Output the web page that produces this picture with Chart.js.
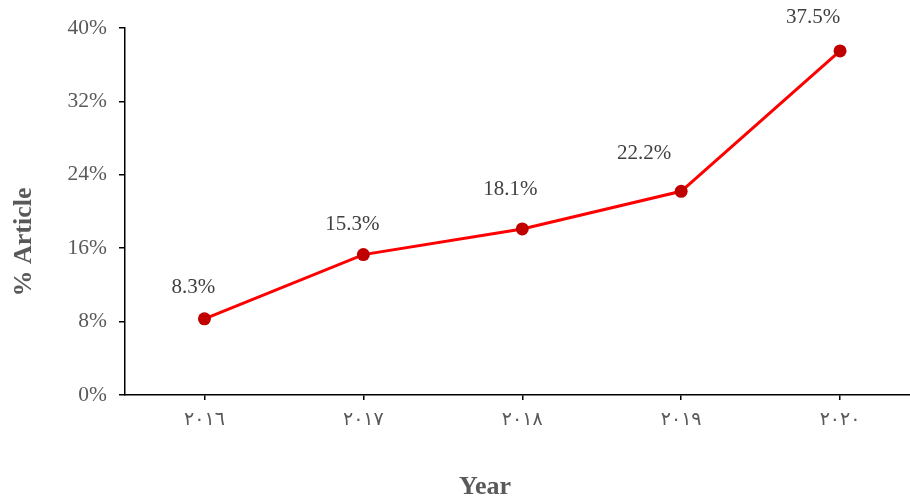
<!DOCTYPE html>
<html>
<head>
<meta charset="utf-8">
<script src="https://cdn.jsdelivr.net/npm/chart.js@4/dist/chart.umd.min.js"></script>
<style>
  html, body { margin: 0; padding: 0; background: #fff; overflow: hidden; }
  #wrap { width: 926px; height: 500px; }
</style>
</head>
<body>
<div id="wrap"><canvas id="c" width="926" height="500"></canvas></div>
<script>
// values
const years   = ['٢٠١٦', '٢٠١٧', '٢٠١٨', '٢٠١٩', '٢٠٢٠'];
const article = [8.3, 15.3, 18.1, 22.2, 37.5];
const yTicks  = [0, 8, 16, 24, 32, 40];

const GRAY  = '#595959';
const SERIF = "'Liberation Serif', 'Times New Roman', serif";

// label placement per point (dx, dy from the marker)
const nudge = [[-11, -31], [-11, -30], [-12, -39], [-37, -38], [-27, -33]];

const pointLabels = {
  id: 'pointLabels',
  afterDatasetsDraw(chart) {
    const ctx = chart.ctx;
    const meta = chart.getDatasetMeta(0);
    ctx.save();
    ctx.font = '21px ' + SERIF;
    ctx.fillStyle = '#404040';
    ctx.textAlign = 'center';
    ctx.textBaseline = 'middle';
    meta.data.forEach((pt, i) => {
      const [dx, dy] = nudge[i];
      ctx.fillText(article[i].toFixed(1) + '%', pt.x + dx, pt.y + dy);
    });
    ctx.restore();
  }
};

// axis titles sit a bit off the plot centre in the reference, so draw them by hand
const axisTitles = {
  id: 'axisTitles',
  afterDraw(chart) {
    const ctx = chart.ctx;
    ctx.save();
    ctx.font = 'bold 26px ' + SERIF;
    ctx.fillStyle = GRAY;
    ctx.textAlign = 'center';
    ctx.textBaseline = 'middle';
    ctx.fillText('Year', 485, 487);
    ctx.translate(24, 242);
    ctx.rotate(-Math.PI / 2);
    ctx.fillText('% Article', 0, 0);
    ctx.restore();
  }
};

new Chart(document.getElementById('c'), {
  type: 'line',
  data: {
    labels: years,
    datasets: [{
      data: article,
      borderColor: '#FF0000',
      borderWidth: 3,
      tension: 0,
      pointRadius: 6.5,
      pointHoverRadius: 6.5,
      pointBackgroundColor: '#C00000',
      pointBorderColor: '#C00000',
      pointBorderWidth: 0,
    }],
  },
  options: {
    responsive: false,
    animation: false,
    layout: { padding: { top: 28, right: 0, bottom: 0, left: 0 } },
    plugins: { legend: { display: false }, tooltip: { enabled: false } },
    scales: {
      x: {
        offset: true,
        grid: { offset: false, drawOnChartArea: false, drawTicks: true, tickLength: 5, color: '#000', lineWidth: 1.5 },
        border: { color: '#000', width: 1.5 },
        ticks: { color: GRAY, padding: 9, font: { family: "'DejaVu Sans'", size: 19 } },
        afterFit: s => { s.height = 105; },
      },
      y: {
        min: 0, max: 40,
        afterBuildTicks: s => { s.ticks = yTicks.map(v => ({ value: v })); },
        grid: { drawOnChartArea: false, drawTicks: true, tickLength: 6, color: '#000', lineWidth: 1.5 },
        border: { color: '#000', width: 1.5 },
        ticks: { color: GRAY, padding: 12, font: { family: SERIF, size: 21.5 }, callback: v => v + '%' },
        afterFit: s => { s.width = 125; },
      },
    },
  },
  plugins: [pointLabels, axisTitles],
});
</script>
</body>
</html>
